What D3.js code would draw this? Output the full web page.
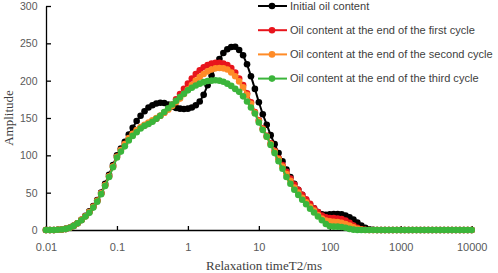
<!DOCTYPE html>
<html>
<head>
<meta charset="utf-8">
<script src="https://cdn.jsdelivr.net/npm/d3@7"></script>
<style>
  html, body { margin: 0; padding: 0; background: #fff; }
  svg { display: block; }
</style>
</head>
<body>
<script>
// T2 relaxation time grid (ms)
var t2 = [
  0.01,0.01136,0.01292,0.01468,0.01668,0.01896,0.02154,0.02448,0.02783,0.03162,0.03594,0.04084,0.04642,0.05275,0.05995,0.06813,0.07743,0.08799,
  0.1,0.1136,0.1292,0.1468,0.1668,0.1896,0.2154,0.2448,0.2783,0.3162,0.3594,0.4084,0.4642,0.5275,0.5995,0.6813,0.7743,0.8799,
  1,1.136,1.292,1.468,1.668,1.896,2.154,2.448,2.783,3.162,3.594,4.084,4.642,5.275,5.995,6.813,7.743,8.799,
  10,11.36,12.92,14.68,16.68,18.96,21.54,24.48,27.83,31.62,35.94,40.84,46.42,52.75,59.95,68.13,77.43,87.99,
  100,113.6,129.2,146.8,166.8,189.6,215.4,244.8,278.3,316.2,359.4,408.4,464.2,527.5,599.5,681.3,774.3,879.9,
  1000,1136,1292,1468,1668,1896,2154,2448,2783,3162,3594,4084,4642,5275,5995,6813,7743,8799,
  10000
];

var initialOil = [
  0,0,0.1,0.3,0.7,1.5,3,5.5,9,13.5,19,25,32,40,50,62,74,87,
  100,109,118,128,137,146,153,159,164,167,169.5,170.5,170,168,165.5,163.5,162.5,162,
  162.5,164,167,172,181,194,207,219,229,237,242,245,245.5,241,234,222,206,189,
  171,155,141,127,115,103,92,81,71,62,54,47,40,34,29,24,21,20.5,
  21,21.5,21.5,21,19.5,17,14,10,6,3,1,0.3,0,0,0,0,0,0,
  0,0,0,0,0,0,0,0,0,0,0,0,0,0,0,0,0,0,
  0
];

var firstCycle = [
  0,0,0.1,0.3,0.7,1.5,3,5.5,9,13.5,18.5,24,31,39,49,60,72,85,
  98,107,115,122,128,133,137,140,143,146,149,153,157,162,168,175,182,189,
  196,203,209,214,218,221,223,224,224,223,221,217,211,203,194,183,171,158,
  147,136,126,116,106,96,87,78,69,61,54,47,41,35,29,24,19.5,17,
  16,16,15.5,14.5,12.5,9.5,6,3,1,0.3,0,0,0,0,0,0,0,0,
  0,0,0,0,0,0,0,0,0,0,0,0,0,0,0,0,0,0,
  0
];

var secondCycle = [
  0,0,0.1,0.3,0.7,1.5,3,5.5,9,13.5,18.5,24,31,39,49,60,72,85,
  98,107,115,123,129,134,138,141,144,147,150,153,157,161,166,171,176,182,
  188,194,200,205,209,212.5,215,216.5,217,216.5,215,211,206,199,191,181,169,157,
  146,135,125,115,105,95,85,75,66,57,50,43,37,31,26,20,15.5,12.5,
  11.5,11,10.5,9.5,8,6,3.5,1.5,0.5,0,0,0,0,0,0,0,0,0,
  0,0,0,0,0,0,0,0,0,0,0,0,0,0,0,0,0,0,
  0
];

var thirdCycle = [
  0,0,0.1,0.3,0.7,1.5,3,5.5,9,13,18,23,30,38,48,59,71,84,
  97,105,112,120,126,131,136,139.5,142,145,149,153,158,163,168,173,178,182.5,
  187,190.5,193.5,196,198,199.5,200,200.5,200,198.5,196,193,189,185,179,172,164,156,
  144,134,125,114,103,92,82,71,62,54,47,40.5,34.5,28.5,23.5,18,13,8,
  5,4.5,4.5,4,3,1.5,0.5,0,0,0,0,0,0,0,0,0,0,0,
  0,0,0,0,0,0,0,0,0,0,0,0,0,0,0,0,0,0,
  0
];

var seriesNames = [
  'Initial oil content',
  'Oil content at the end of the first cycle',
  'Oil content at the end of the second cycle',
  'Oil content at the end of the third cycle'
];
var seriesColors = ['#000000', '#e8141c', '#ff8b27', '#3bb53b'];
var seriesValues = [initialOil, firstCycle, secondCycle, thirdCycle];

var yTicks = [0, 50, 100, 150, 200, 250, 300];
var xTicks = [0.01, 0.1, 1, 10, 100, 1000, 10000];
var xTickLabels = ['0.01', '0.1', '1', '10', '100', '1000', '10000'];

var width = 498,
    height = 273,
    plot = { left: 46, right: 471.7, top: 6, bottom: 230 };

var svg = d3.select('body')
    .append('svg')
    .attr('width', width)
    .attr('height', height)

var xScale = d3.scaleLog()
    .domain([0.01, 10000])
    .range([plot.left, plot.right])
var yScale = d3.scaleLinear()
    .domain([0, 300])
    .range([plot.bottom, plot.top])

var xAxis = d3.axisBottom(xScale)
    .tickValues(xTicks)
    .tickFormat((d, i) => xTickLabels[i])
    .tickSizeInner(-4)
    .tickSizeOuter(0)
    .tickPadding(13)
var yAxis = d3.axisLeft(yScale)
    .tickValues(yTicks)
    .tickSizeInner(-5)
    .tickSizeOuter(0)
    .tickPadding(8.5)

var gx = svg.append('g').attr('transform', `translate(0, ${plot.bottom})`).call(xAxis)
var gy = svg.append('g').attr('transform', `translate(${plot.left}, 0)`).call(yAxis)

gx.selectAll('text').attr('font-size', 11)
gy.selectAll('text').attr('font-size', 10.5)
svg.selectAll('.tick text')
    .attr('font-family', '"Liberation Sans", Arial, sans-serif')
    .attr('fill', '#595959')
svg.selectAll('.domain, .tick line')
    .attr('stroke', '#000')
    .attr('stroke-width', 1.3)

// axis titles
svg.append('text')
    .attr('x', 264)
    .attr('y', 270)
    .attr('text-anchor', 'middle')
    .attr('font-family', '"Liberation Serif", "Times New Roman", serif')
    .attr('font-size', 13)
    .attr('fill', '#404040')
    .text('Relaxation timeT2/ms')
svg.append('text')
    .attr('transform', 'translate(13, 118) rotate(-90)')
    .attr('text-anchor', 'middle')
    .attr('font-family', '"Liberation Serif", "Times New Roman", serif')
    .attr('font-size', 13)
    .attr('fill', '#404040')
    .text('Amplitude')

var line = d3.line()
    .x((d, i) => xScale(t2[i]))
    .y(d => yScale(d))

seriesValues.forEach((vals, s) => {
    var g = svg.append('g')
    g.append('path')
        .attr('d', line(vals))
        .attr('fill', 'none')
        .attr('stroke', seriesColors[s])
        .attr('stroke-width', 2)
    g.selectAll('circle')
        .data(vals)
        .join('circle')
        .attr('cx', (d, i) => xScale(t2[i]))
        .attr('cy', d => yScale(d))
        .attr('r', 3.3)
        .attr('fill', seriesColors[s])
})

// legend
var legend = svg.append('g')
var legendTexts = []
seriesNames.forEach((name, s) => {
    var ly = 6 + s * 24.2
    var row = legend.append('g').attr('transform', `translate(258, ${ly})`)
    row.append('line')
        .attr('x1', 0).attr('x2', 29)
        .attr('y1', 0).attr('y2', 0)
        .attr('stroke', seriesColors[s])
        .attr('stroke-width', 2)
    row.append('circle')
        .attr('cx', 14).attr('cy', 0).attr('r', 3.3)
        .attr('fill', seriesColors[s])
    legendTexts.push(row.append('text')
        .attr('x', 32)
        .attr('y', 0)
        .attr('dy', '0.35em')
        .attr('font-family', '"Liberation Sans", Arial, sans-serif')
        .attr('font-size', 11)
        .attr('fill', '#404040')
        .text(name))
})
// fit the longest legend entry into the space right of the plot
var longest = d3.max(legendTexts, t => t.node().getComputedTextLength())
var fitSize = Math.min(11.8, 11 * 203 / longest)
legendTexts.forEach(t => t.attr('font-size', fitSize))
</script>
</body>
</html>
